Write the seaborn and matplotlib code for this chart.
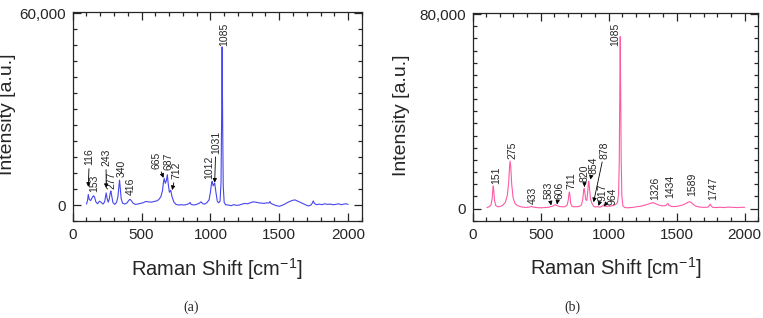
import matplotlib
matplotlib.use("Agg")
from matplotlib import pyplot as plt
from matplotlib.ticker import MultipleLocator, FixedLocator, FuncFormatter
import pandas as pd
import seaborn as sns

# spectrum (a): Raman shift / intensity
shift_a = [100, 108, 113, 120, 130, 140, 150, 158, 168, 180, 195, 205, 220, 232, 238, 243, 250,
           258, 266, 272, 277, 284, 292, 305, 318, 328, 335, 340, 346, 352, 362, 378, 395, 408,
           416, 425, 440, 455, 470, 490, 510, 530, 550, 570, 590, 610, 625, 640, 652, 660, 665,
           672, 680, 687, 694, 702, 712, 720, 735, 750, 770, 790, 810, 830, 845, 852, 860, 880,
           900, 920, 932, 945, 960, 975, 990, 1000, 1008, 1012, 1020, 1031, 1040, 1050, 1060,
           1070, 1077, 1081, 1085, 1089, 1093, 1100, 1110, 1130, 1150, 1170, 1190, 1210, 1230,
           1250, 1270, 1290, 1310, 1330, 1350, 1370, 1390, 1410, 1425, 1432, 1440, 1460, 1480,
           1500, 1520, 1540, 1560, 1580, 1600, 1615, 1630, 1650, 1670, 1690, 1710, 1730, 1740,
           1747, 1755, 1770, 1790, 1810, 1830, 1850, 1870, 1890, 1910, 1930, 1950, 1970, 1985, 2000]
intens_a = [300, 1500, 3300, 1800, 1400, 2200, 2900, 2600, 1000, 400, 1200, 900, 300, 1000, 2500,
            3800, 2000, 900, 2000, 3700, 4400, 2800, 800, 200, 800, 2500, 5500, 7800, 5000, 2000,
            600, 300, 700, 1500, 1800, 1400, 500, 200, 300, 500, 700, 1100, 1000, 900, 1100, 1300,
            1700, 2600, 4500, 7500, 8300, 6800, 7600, 9500, 6500, 4000, 4600, 2800, 900, 200, 0,
            100, 0, 200, 500, 800, 200, 0, 200, 600, 1000, 400, 300, 800, 1600, 4000, 6800, 7400,
            6000, 6900, 4000, 1200, 700, 1200, 7000, 25000, 49500, 25000, 6000, 800, 100, 0, -200,
            100, -100, 0, 300, 500, 400, 700, 1000, 900, 700, 600, 500, 700, 600, 1100, 500, 100,
            -200, -400, -100, 300, 800, 1200, 1500, 1600, 1300, 900, 500, 100, -300, 0, 600, 1300,
            500, 100, 300, 100, 400, 200, 300, 100, 200, 400, 100, 300, 400, 200]

# spectrum (b)
shift_b = [105, 120, 135, 143, 148, 151, 155, 160, 170, 185, 200, 220, 240, 255, 265, 271, 275,
           280, 287, 297, 310, 330, 355, 380, 405, 425, 433, 445, 470, 500, 530, 555, 575, 590,
           606, 620, 640, 660, 680, 695, 703, 708, 711, 715, 721, 732, 760, 785, 800, 810, 816,
           820, 825, 832, 840, 847, 851, 854, 858, 866, 878, 890, 905, 917, 930, 945, 955, 964,
           975, 990, 1010, 1030, 1050, 1065, 1073, 1078, 1082, 1085, 1088, 1092, 1097, 1105,
           1120, 1140, 1160, 1180, 1200, 1230, 1260, 1290, 1310, 1326, 1345, 1370, 1395, 1420,
           1430, 1436, 1443, 1460, 1480, 1500, 1520, 1545, 1565, 1580, 1592, 1605, 1620, 1640,
           1660, 1690, 1715, 1735, 1742, 1747, 1753, 1765, 1790, 1820, 1850, 1880, 1910, 1940,
           1970, 2000]
intens_b = [400, 700, 1500, 4000, 7500, 9300, 7500, 3500, 1200, 700, 800, 1300, 2500, 5500, 11000,
            17000, 19500, 17000, 10000, 4500, 2200, 1200, 700, 500, 500, 700, 900, 600, 400, 300,
            400, 500, 800, 1000, 1600, 1200, 800, 700, 800, 1500, 3500, 6000, 6800, 5500, 2000,
            800, 700, 900, 1500, 4000, 7500, 8200, 6500, 3500, 3400, 7500, 10800, 11200, 9000,
            4000, 2000, 900, 600, 800, 600, 700, 1100, 1500, 1000, 900, 1000, 1200, 1600, 2500,
            6000, 20000, 50000, 70700, 50000, 20000, 5000, 1000, 400, 300, 400, 500, 700, 900,
            1300, 1800, 2200, 2400, 2000, 1400, 1100, 1200, 1800, 2100, 1300, 900, 800, 900, 1100,
            1500, 2000, 2500, 2800, 2600, 1800, 1000, 700, 500, 500, 700, 1400, 1800, 1100, 500,
            400, 500, 400, 600, 500, 400, 500, 500]

# peak labels: text, label x, label bottom y, arrow tip (None = no arrow)
labels_a = [("116", 121, 12400, (113, 5700)), ("153", 157, 4200, None),
            ("243", 242, 12100, (243, 5300)), ("277", 281, 4900, None),
            ("340", 354, 8800, None), ("416", 424, 3100, None),
            ("665", 611, 11400, (659, 8500)), ("687", 696, 10900, None),
            ("712", 755, 8000, (722, 4700)), ("1012", 994, 8000, None),
            ("1031", 1040, 16100, (1031, 7000)), ("1085", 1100, 49800, None)]
labels_b = [("151", 173, 10300, None), ("275", 295, 20500, None),
            ("433", 439, 1800, None), ("583", 555, 4100, (577, 1300)),
            ("606", 637, 4100, (620, 1700)), ("711", 723, 8200, None),
            ("820", 822, 10900, (822, 8900)), ("854", 887, 14400, (866, 11900)),
            ("878", 971, 20500, (889, 2600)), ("917", 958, 3200, (925, 1100)),
            ("964", 1027, 1600, (965, 900)), ("1085", 1048, 67000, None),
            ("1326", 1343, 3400, None), ("1434", 1454, 4500, None),
            ("1589", 1616, 5000, None), ("1747", 1769, 3700, None)]

sns.set_style("ticks")
plt.rcParams["font.family"] = ["Liberation Sans", "DejaVu Sans"]
plt.rcParams["mathtext.default"] = "regular"

fig = plt.figure(figsize=(7.63, 3.18), dpi=100)
ax_a = fig.add_axes([0.0953, 0.305, 0.379, 0.656])
ax_b = fig.add_axes([0.6195, 0.306, 0.3743, 0.652])


def draw_panel(ax, shift, intens, color, labels, ymax, ylab_x):
    df = pd.DataFrame({"shift": shift, "intensity": intens})
    sns.lineplot(data=df, x="shift", y="intensity", ax=ax, color=color,
                 lw=0.8, estimator=None, sort=False)
    ax.set_xlim(0, 2100)
    ax.set_ylim(-5000, ymax + 300)
    ax.xaxis.set_major_locator(FixedLocator([0, 500, 1000, 1500, 2000]))
    ax.xaxis.set_minor_locator(MultipleLocator(100))
    ax.yaxis.set_major_locator(FixedLocator([0, ymax]))
    ax.yaxis.set_minor_locator(MultipleLocator(5000))
    ax.yaxis.set_major_formatter(FuncFormatter(lambda v, p: f"{int(v):,}"))
    ax.tick_params(which="both", direction="in", top=True, right=True,
                   width=0.9, labelsize=11, pad=5)
    ax.tick_params(which="major", length=6)
    ax.tick_params(which="minor", length=3)
    for s in ax.spines.values():
        s.set_linewidth(0.9)
    ax.set_xlabel("Raman Shift [cm$^{-1}$]", fontsize=14.5, labelpad=10)
    ax.set_ylabel("Intensity [a.u.]", fontsize=14)
    ax.yaxis.set_label_coords(ylab_x, 0.51)
    for txt, tx, ty, tip in labels:
        if tip is None:
            ax.text(tx, ty, txt, rotation=90, ha="center", va="bottom", fontsize=7.5)
        else:
            ax.annotate(txt, xy=tip, xytext=(tx, ty), rotation=90, ha="center",
                        va="bottom", fontsize=7.5,
                        arrowprops=dict(arrowstyle="-|>", lw=0.6, color="black",
                                        mutation_scale=6, shrinkA=0, shrinkB=0))


draw_panel(ax_a, shift_a, intens_a, "#4646f0", labels_a, 60000, -0.195)
draw_panel(ax_b, shift_b, intens_b, "#ff5aa5", labels_b, 80000, -0.22)

fig.text(0.250, 0.034, "(a)", family="Liberation Serif", fontsize=10, ha="center", va="center")
fig.text(0.750, 0.034, "(b)", family="Liberation Serif", fontsize=10, ha="center", va="center")

fig.savefig("out.png", dpi=100)
